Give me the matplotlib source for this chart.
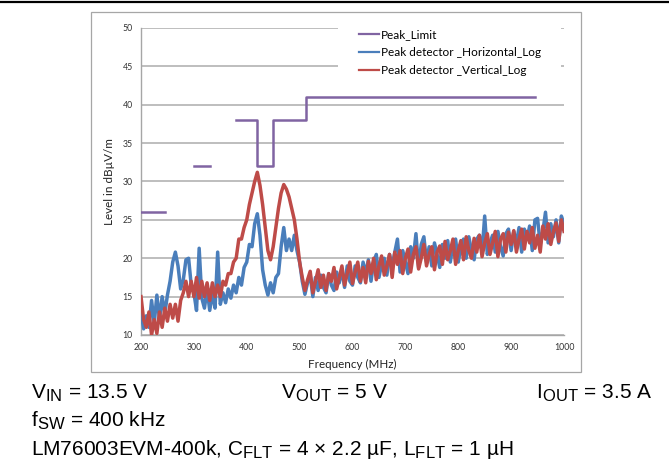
import numpy as np
import matplotlib
matplotlib.use("Agg")
import matplotlib.pyplot as plt
from matplotlib.patches import Rectangle
from matplotlib.lines import Line2D
try:
    import matplotlib._mathtext as _mt
    _mt.SHRINK_FACTOR = 0.8
except Exception:
    pass

plt.rcParams['mathtext.fontset'] = 'custom'
plt.rcParams['mathtext.rm'] = 'Liberation Sans'
plt.rcParams['mathtext.it'] = 'Liberation Sans:italic'
plt.rcParams['mathtext.bf'] = 'Liberation Sans:bold'

# ---------------- data ----------------
freq_mhz = np.arange(200, 1001, 5)

horizontal_log = [
    13.0, 10.8, 12.5, 11.0, 14.5, 11.5, 15.2, 12.0, 15.0, 12.8,
    15.2, 17.0, 19.5, 20.8, 19.0, 16.0, 17.2, 19.8, 20.0, 16.5,
    15.5, 13.2, 21.3, 14.8, 13.5, 16.0, 13.2, 15.5, 13.5, 20.8,
    14.0, 15.5, 14.2, 16.0, 14.8, 16.5, 15.5, 17.5, 16.5, 18.8,
    19.5, 21.8, 21.5, 24.5, 25.8, 23.0, 18.5, 16.5, 15.2, 16.8,
    15.5, 17.5, 18.0, 21.5, 24.0, 21.0, 22.5, 21.0, 23.0, 21.0,
    19.5, 17.0, 15.3, 16.8, 17.8, 15.0, 17.5, 15.8, 17.8, 16.2,
    15.5, 18.0, 16.5, 15.8, 18.2, 16.8, 18.5, 16.2, 19.0, 17.0,
    16.5, 19.0, 17.5, 16.8, 19.5, 18.0, 19.8, 17.0, 19.5, 20.5,
    17.5, 19.2, 20.0, 17.8, 20.5, 19.0, 20.8, 22.5, 18.2, 21.0,
    19.5, 18.0, 21.5, 20.0, 23.2, 18.8, 21.8, 22.8, 19.5, 21.5,
    19.0, 22.0, 20.5, 18.8, 21.8, 20.0, 22.3, 19.5, 21.8, 22.5,
    19.5, 21.5, 22.5, 20.0, 22.8, 21.0, 19.8, 22.5, 23.0, 20.8,
    25.5, 20.5, 22.0, 23.0, 20.8, 23.5, 21.5, 20.3, 23.2, 23.8,
    21.0, 23.5, 22.0, 24.0, 20.8, 23.8, 22.5, 24.2, 21.0, 25.0,
    25.2, 21.8, 23.5, 26.0, 22.0, 24.5, 22.8, 25.0, 22.0, 25.5,
    24.5,
]

vertical_log = [
    15.0, 12.0, 11.0, 13.0, 10.0, 12.0, 10.2, 13.0, 11.0, 13.5,
    11.8, 14.0, 12.2, 14.0, 11.8, 14.5, 15.5, 17.0, 15.0, 17.0,
    15.0, 17.5, 14.8, 17.0, 15.0, 16.8, 14.5, 16.8, 15.0, 16.5,
    15.0, 17.0, 16.5, 18.0, 18.0, 19.5, 20.0, 22.5, 22.5, 24.0,
    25.0, 27.0, 28.5, 30.0, 31.2, 29.5, 27.0, 24.0, 21.0, 19.8,
    21.5, 24.0, 26.5, 28.5, 29.6, 29.0, 28.0, 26.5, 25.0, 22.5,
    19.5, 17.5, 15.8, 17.2, 18.3, 15.5, 17.0, 18.5, 16.2, 17.8,
    15.8, 18.0, 17.0, 18.8, 16.0, 17.5, 19.0, 16.5, 18.0, 19.5,
    16.7, 18.2, 19.5, 17.0, 18.8, 16.8, 19.6, 18.0, 20.0, 17.2,
    19.0, 20.3, 17.8, 19.0, 20.5, 17.5, 20.8, 19.2, 21.0, 18.0,
    20.0, 21.2, 18.2, 20.5, 21.5, 18.6, 20.0, 21.8, 19.0, 20.5,
    21.5, 18.5, 20.8, 21.6, 19.2, 22.2, 19.8, 21.0, 22.5, 19.2,
    21.0, 22.3, 19.8, 22.8, 21.0, 20.0, 22.6, 20.8, 23.0, 20.2,
    22.0, 23.2, 20.5, 22.0, 23.5, 20.2, 22.5, 23.2, 20.8, 23.4,
    21.8, 23.6, 20.8, 22.5, 23.8, 21.2, 23.5, 22.0, 24.0, 21.3,
    23.0, 20.8, 24.2, 22.5, 24.5, 21.8, 23.5, 24.6, 22.2, 25.0,
    23.5,
]

limit_freq = [200, 245, np.nan, 300, 330, np.nan, 380, 420, 420, 450, 450, 512, 512, 945]
limit_level = [26, 26, np.nan, 32, 32, np.nan, 38, 38, 32, 32, 38, 38, 41, 41]

x_ticks = [200, 300, 400, 500, 600, 700, 800, 900, 1000]
y_ticks = [10, 15, 20, 25, 30, 35, 40, 45, 50]

# ---------------- figure ----------------
W, H = 669, 470
fig = plt.figure(figsize=(W / 100, H / 100), dpi=100)

def fx(px):
    return px / W

def fy(py):
    return 1 - py / H

# top black rule
fig.add_artist(Line2D([0, 1], [fy(2), fy(2)], color='black', lw=1.6, transform=fig.transFigure))
# chart frame
fig.add_artist(Rectangle((fx(91), fy(372)), fx(581) - fx(91), fy(12) - fy(372),
                         transform=fig.transFigure, fill=False, edgecolor='#a6a6a6', lw=0.9))

ax = fig.add_axes([fx(141), fy(335), fx(564) - fx(141), fy(28) - fy(335)])

purple = '#8064a2'
blue = '#4a7ebb'
red = '#be4b48'

ax.plot(freq_mhz, horizontal_log, color=blue, lw=2.5, label='Peak detector _Horizontal_Log', zorder=3)
ax.plot(freq_mhz, vertical_log, color=red, lw=2.5, label='Peak detector _Vertical_Log', zorder=4)
ax.plot(limit_freq, limit_level, color=purple, lw=1.8, label='Peak_Limit', zorder=5)

ax.set_xlim(200, 1000)
ax.set_ylim(10, 50)
ax.set_xticks(x_ticks)
ax.set_yticks(y_ticks)
ax.grid(axis='y', color='#b3b3b3', lw=1.2)
ax.set_axisbelow(True)
for s in ['top', 'right']:
    ax.spines[s].set_visible(False)
for s in ['left', 'bottom']:
    ax.spines[s].set_color('#a6a6a6')
    ax.spines[s].set_linewidth(1.0)
ax.tick_params(length=0, labelsize=6.3, colors='#333333', pad=6)
for lab in ax.get_xticklabels() + ax.get_yticklabels():
    lab.set_family('Lato')

ax.set_xlabel('Frequency (MHz)', family='Lato', fontsize=8.4, color='#222222', labelpad=5)
ax.set_ylabel('Level in dBµV/m', family='Lato', fontsize=8.4, color='#222222', labelpad=5)

# white area behind the legend (hides gridlines there)
ax.add_patch(Rectangle((fx(338), fy(88)), fx(561) - fx(338), fy(20) - fy(88),
                       transform=fig.transFigure, facecolor='white', edgecolor='none',
                       zorder=2, clip_on=False))

handles, labels = ax.get_legend_handles_labels()
order = [2, 0, 1]
leg = ax.legend([handles[i] for i in order], [labels[i] for i in order],
                loc='upper left', bbox_to_anchor=(fx(359), fy(29)),
                bbox_transform=fig.transFigure,
                frameon=False, prop={'family': 'Lato', 'size': 8.5},
                handlelength=1.7, handletextpad=0.15, labelspacing=0.61,
                borderpad=0.0, borderaxespad=0.0)
leg.set_zorder(6)
for ln in leg.get_lines():
    ln.set_linewidth(1.6)

# ---------------- caption text ----------------
fs = 15
tkw = dict(fontsize=fs, family='Liberation Sans', va='baseline', color='black')
fig.text(fx(31), fy(399), r'V$_{\mathrm{IN}}$ = 13.5 V', ha='left', **tkw)
fig.text(fx(281), fy(399), r'V$_{\mathrm{OUT}}$ = 5 V', ha='left', **tkw)
fig.text(fx(652), fy(399), r'I$_{\mathrm{OUT}}$ = 3.5 A', ha='right', **tkw)
fig.text(fx(31), fy(427), r'f$_{\mathrm{SW}}$ = 400 kHz', ha='left', **tkw)
fig.text(fx(31), fy(455), r'LM76003EVM-400k, C$_{\mathrm{FLT}}$ = 4 × 2.2 µF, L$_{\mathrm{FLT}}$ = 1 µH',
         ha='left', **tkw)

fig.savefig('out.png', dpi=100)
